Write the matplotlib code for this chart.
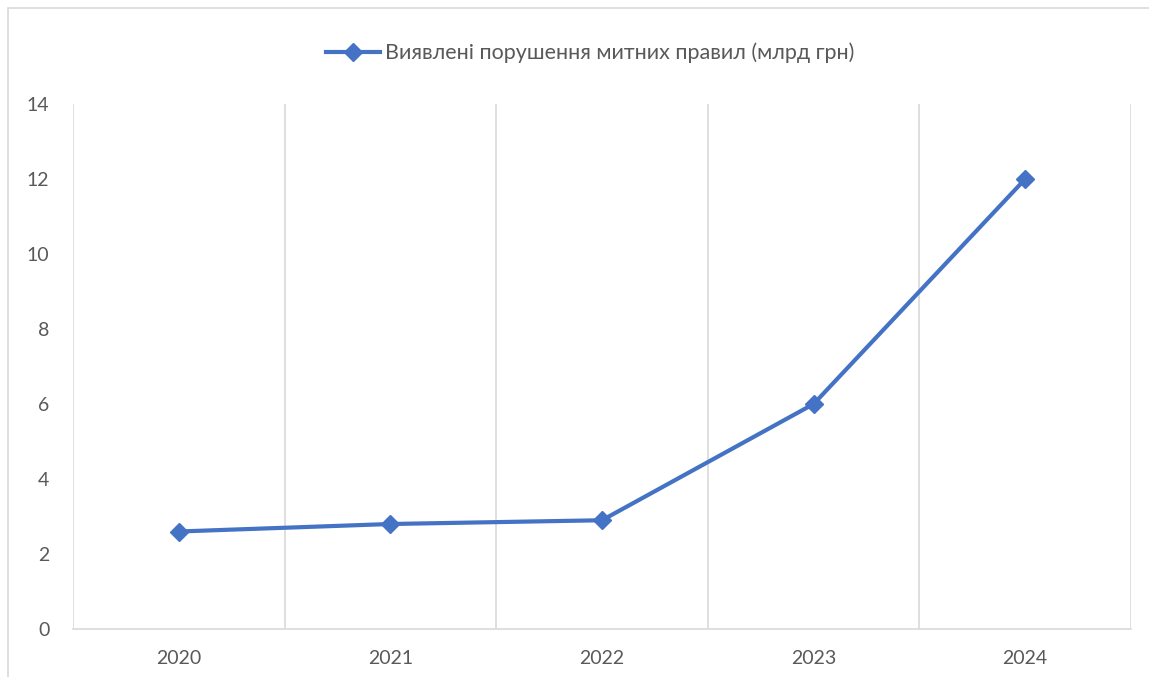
import matplotlib
matplotlib.use("Agg")
import matplotlib.pyplot as plt
from matplotlib.patches import Rectangle

years = ["2020", "2021", "2022", "2023", "2024"]
values = [2.6, 2.8, 2.9, 6.0, 12.0]
series_name = "Виявлені порушення митних правил (млрд грн)"

plt.rcParams['font.family'] = ['Lato', 'Noto Sans', 'DejaVu Sans']

W, H = 1149, 677
fig = plt.figure(figsize=(W / 100, H / 100), dpi=100)
ax = fig.add_axes([73 / W, 1 - 629 / H, (1131 - 73) / W, (629 - 104) / H])

x = list(range(len(years)))
ax.plot(x, values, color="#4472C4", linewidth=3, marker="D", markersize=9.5,
        label=series_name, zorder=3)

ax.set_xlim(-0.5, len(years) - 0.5)
ax.set_ylim(0, 14)
ax.set_yticks(range(0, 15, 2))
ax.set_xticks(x)
ax.set_xticklabels(years)

# vertical gridlines at category boundaries
for b in [i - 0.5 for i in range(len(years) + 1)]:
    ax.axvline(b, color="#D9D9D9", linewidth=1.2, zorder=1)

for s in ["top", "right", "left"]:
    ax.spines[s].set_visible(False)
ax.spines["bottom"].set_color("#D9D9D9")
ax.spines["bottom"].set_linewidth(1.2)

ax.tick_params(axis="both", length=0, labelsize=14, colors="#595959")
ax.tick_params(axis="y", pad=17)
ax.tick_params(axis="x", pad=15)

fig.legend(loc="center", bbox_to_anchor=(590 / W, 1 - 53 / H), frameon=False,
           fontsize=15.5, labelcolor="#595959", handlelength=2.5, handletextpad=0.25)

# chart border
fig.patches.append(Rectangle((8 / W, -0.05), 1.2, 1 - 8 / H + 0.05,
                             transform=fig.transFigure, fill=False,
                             edgecolor="#D9D9D9", linewidth=1.2))

fig.savefig("out.png", dpi=100)
